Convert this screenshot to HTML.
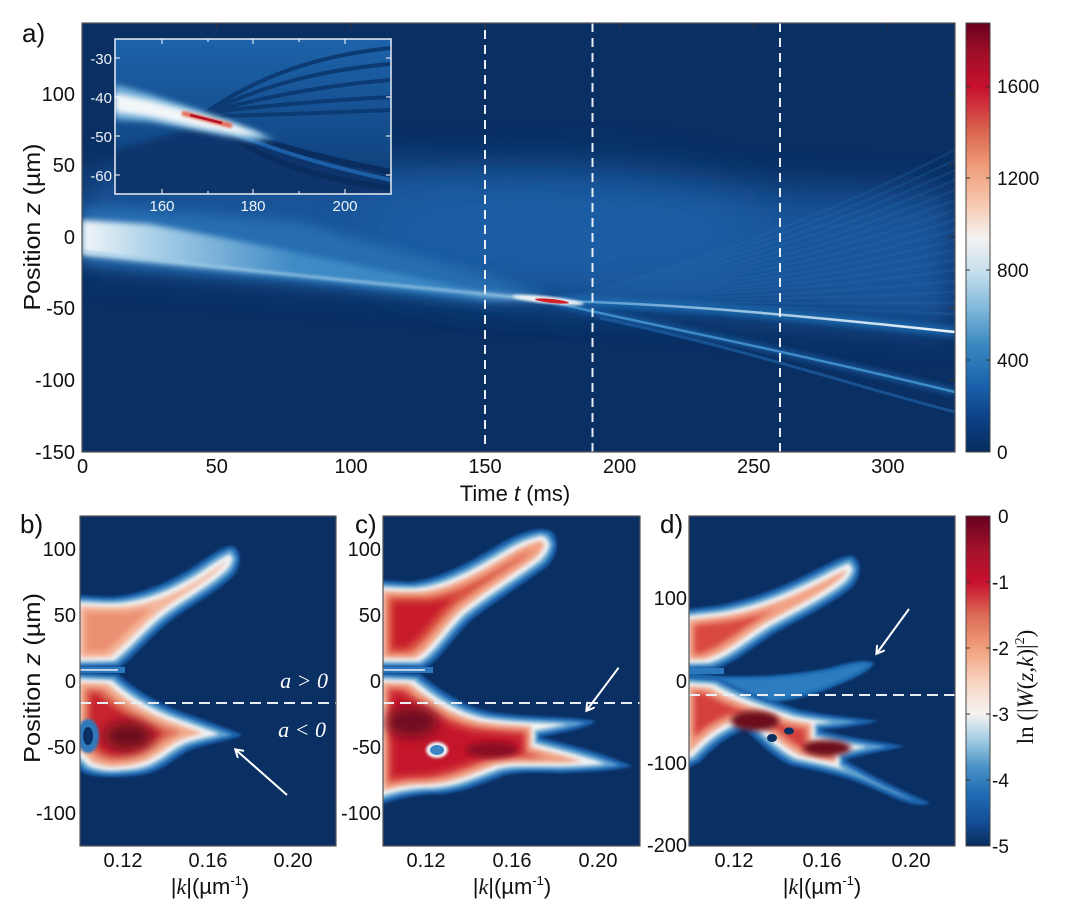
<!DOCTYPE html>
<html><head><meta charset="utf-8"><style>
html,body{margin:0;padding:0;background:#fff;}
svg{display:block;}
text{font-family:"Liberation Sans",sans-serif;fill:#111;}
</style></head><body>
<svg width="1071" height="921" viewBox="0 0 1071 921" xmlns="http://www.w3.org/2000/svg">
<defs>
<linearGradient id="cbA" x1="0" y1="1" x2="0" y2="0">
<stop offset="0" stop-color="#082d5e"/><stop offset="0.08" stop-color="#0d4188"/><stop offset="0.16" stop-color="#1a64ad"/><stop offset="0.25" stop-color="#3a88c0"/><stop offset="0.33" stop-color="#7cb6d9"/><stop offset="0.42" stop-color="#c6dfed"/><stop offset="0.5" stop-color="#f5f2f0"/><stop offset="0.58" stop-color="#f6c8ae"/><stop offset="0.67" stop-color="#ee9a77"/><stop offset="0.75" stop-color="#d9634e"/><stop offset="0.85" stop-color="#c8102e"/><stop offset="0.93" stop-color="#a00e26"/><stop offset="1" stop-color="#6a0020"/>
</linearGradient>
<linearGradient id="cbD" x1="0" y1="1" x2="0" y2="0">
<stop offset="0" stop-color="#082d5e"/><stop offset="0.08" stop-color="#14509a"/><stop offset="0.16" stop-color="#1f6db5"/><stop offset="0.24" stop-color="#4a92c6"/><stop offset="0.32" stop-color="#a0cbe2"/><stop offset="0.4" stop-color="#f5f3f2"/><stop offset="0.5" stop-color="#f9d2bf"/><stop offset="0.6" stop-color="#f0a07c"/><stop offset="0.7" stop-color="#dc6a55"/><stop offset="0.8" stop-color="#c8102e"/><stop offset="0.9" stop-color="#a3122a"/><stop offset="1" stop-color="#67001f"/>
</linearGradient>
<linearGradient id="beamG" x1="82" y1="0" x2="555" y2="0" gradientUnits="userSpaceOnUse">
<stop offset="0" stop-color="#f2f6f9"/><stop offset="0.15" stop-color="#a9d0e8"/><stop offset="0.45" stop-color="#3f8ac5"/><stop offset="0.8" stop-color="#3a86c3"/><stop offset="1" stop-color="#9cc8e4"/>
</linearGradient>
<linearGradient id="brG" x1="600" y1="0" x2="955" y2="0" gradientUnits="userSpaceOnUse">
<stop offset="0" stop-color="#5c9fd0"/><stop offset="1" stop-color="#f2f5f8"/>
</linearGradient>
<linearGradient id="insG" x1="0" y1="39" x2="0" y2="194" gradientUnits="userSpaceOnUse">
<stop offset="0" stop-color="#1d63ab"/><stop offset="1" stop-color="#0e3d76"/>
</linearGradient>
<filter id="b1" x="-20%" y="-20%" width="140%" height="140%"><feGaussianBlur stdDeviation="1.2"/></filter>
<filter id="b3" x="-20%" y="-50%" width="140%" height="200%"><feGaussianBlur stdDeviation="3"/></filter>
<filter id="b6" x="-20%" y="-50%" width="140%" height="200%"><feGaussianBlur stdDeviation="6"/></filter>
<filter id="b20" x="-30%" y="-50%" width="160%" height="200%"><feGaussianBlur stdDeviation="18"/></filter>
<filter id="b25" x="-50%" y="-50%" width="200%" height="200%"><feGaussianBlur stdDeviation="25"/></filter>
<filter id="e3"><feMorphology operator="erode" radius="3"/><feGaussianBlur stdDeviation="1.3"/></filter>
<filter id="e6"><feMorphology operator="erode" radius="6"/><feGaussianBlur stdDeviation="1.5"/></filter>
<filter id="e10"><feMorphology operator="erode" radius="10"/><feGaussianBlur stdDeviation="2"/></filter>
<filter id="e15"><feMorphology operator="erode" radius="15"/><feGaussianBlur stdDeviation="3"/></filter>
<filter id="e20"><feMorphology operator="erode" radius="20"/><feGaussianBlur stdDeviation="3"/></filter>
<clipPath id="cA"><rect x="82" y="23" width="873" height="429"/></clipPath>
<clipPath id="cI"><rect x="115" y="39" width="276" height="155"/></clipPath>
<clipPath id="cB"><rect x="80" y="516" width="256" height="330"/></clipPath>
<clipPath id="cC"><rect x="383" y="516" width="257" height="330"/></clipPath>
<clipPath id="cD"><rect x="689" y="516" width="266" height="330"/></clipPath>
<path id="bUp" d="M70,595 L110,597 C140,595 165,584 190,569 C210,556 222,546 232,546 C242,549 242,566 233,576 C215,593 190,606 170,621 C150,637 135,656 120,667 L70,668 Z"/>
<path id="bLow" d="M70,672 L118,674 C135,690 160,705 190,715 C215,724 232,730 242,735 C232,740 215,742 195,748 C175,755 165,772 140,775 C115,778 95,778 82,772 L70,760 Z"/>
<path id="cUp" d="M373,580 L410,582 C440,579 470,562 500,544 C520,532 540,526 551,531 C560,539 558,556 546,567 C520,586 495,601 470,621 C450,641 440,660 425,668 L373,668 Z"/>
<path id="cLow" d="M373,672 L420,674 C440,690 460,705 490,712 C530,718 570,716 595,721 C590,728 560,733 540,737 C570,745 600,752 632,766 C610,772 580,772 560,773 C530,772 510,772 500,777 C480,784 465,792 440,794 C410,794 395,800 373,807 Z"/>
<path id="dUp" d="M679,610 L715,606 C750,600 780,588 810,573 C830,563 845,554 853,556 C863,563 861,578 851,588 C830,605 800,619 775,633 C750,649 735,663 715,669 L679,670 Z"/>
<path id="dArm" d="M679,672 L720,676 C760,678 800,674 830,668 C850,662 865,659 874,663 C870,672 850,680 830,688 C800,700 770,705 745,703 Z"/>
<path id="dLow" d="M679,675 L720,678 C740,690 770,700 800,710 C830,716 860,718 878,721 C860,726 840,728 820,730 C850,738 880,742 905,746 C880,752 860,755 845,760 C870,775 900,790 930,803 C915,810 890,795 860,783 C840,775 815,770 790,765 C770,755 760,742 745,730 C730,735 715,745 700,762 L679,772 Z"/>
<marker id="ah" markerWidth="10" markerHeight="10" refX="7" refY="5" orient="auto" markerUnits="userSpaceOnUse"><path d="M0,0 L8,5 L0,10" fill="none" stroke="#fff" stroke-width="2"/></marker>
</defs>

<!-- ============ PANEL A ============ -->
<g clip-path="url(#cA)">
<rect x="82" y="23" width="873" height="429" fill="#0a2f63"/>
<path d="M82,175 L400,165 L700,185 L955,195 L955,330 L555,300 L82,262 Z" fill="#1a5ca3" opacity="0.85" filter="url(#b20)"/>
<ellipse cx="560" cy="230" rx="200" ry="55" fill="#1d62aa" opacity="0.7" filter="url(#b25)"/>
<!-- fringes -->
<g fill="none" stroke="#2a70b6" stroke-width="2.5" opacity="0.22">
<path d="M555,300 Q760,250 955,150"/><path d="M555,300 Q760,255 955,160"/><path d="M555,300 Q760,260 955,170"/><path d="M555,300 Q760,265 955,180"/><path d="M555,300 Q760,270 955,190"/><path d="M555,300 Q760,274 955,200"/><path d="M555,300 Q760,278 955,210"/><path d="M555,300 Q760,282 955,220"/><path d="M555,300 Q760,286 955,230"/><path d="M555,300 Q760,289 955,240"/><path d="M555,300 Q760,292 955,250"/><path d="M555,300 Q760,295 955,260"/><path d="M555,300 Q760,297 955,270"/><path d="M555,300 Q760,300 955,281"/><path d="M555,300 Q760,302 955,292"/><path d="M555,300 Q760,304 955,303"/><path d="M555,300 Q760,306 955,314"/>
</g>
<!-- main beam -->
<path d="M82,205 L300,222 L485,275 L555,298 L485,302 L300,282 L82,264 Z" fill="#2a75b8" opacity="0.8" filter="url(#b6)"/>
<path d="M82,220 L150,224 L250,243 L400,274 L485,292 L555,300 L485,299 L350,284 L200,268 L82,255 Z" fill="url(#beamG)" filter="url(#b3)"/>
<path d="M82,251 C200,266 400,286 555,301" fill="none" stroke="#a6d0ea" stroke-width="3" opacity="0.7" filter="url(#b1)"/>
<!-- branches -->
<path d="M555,301 C650,303 750,310 955,332" fill="none" stroke="#1e6db3" stroke-width="10" opacity="0.8" filter="url(#b3)"/>
<path d="M555,301 C650,303 750,310 955,332" fill="none" stroke="url(#brG)" stroke-width="2.5"/>
<path d="M560,304 C650,325 760,345 955,392" fill="none" stroke="#1d64aa" stroke-width="7" opacity="0.7" filter="url(#b3)"/>
<path d="M560,304 C650,325 760,345 955,392" fill="none" stroke="#3d8bc7" stroke-width="2.5"/>
<path d="M600,318 C750,350 850,385 955,412" fill="none" stroke="#1a5a9c" stroke-width="3" opacity="0.8"/>
<ellipse cx="548" cy="300" rx="36" ry="3.5" fill="#eef3f7" transform="rotate(6 548 300)" filter="url(#b1)"/>
<ellipse cx="552" cy="301" rx="17" ry="2" fill="#d0202a" transform="rotate(6 552 301)"/>
<!-- dashed lines -->
<g stroke="#e8eef4" stroke-width="2" stroke-dasharray="9,6">
<line x1="485" y1="30" x2="485" y2="445"/><line x1="592.5" y1="23" x2="592.5" y2="452"/><line x1="780" y1="23" x2="780" y2="452"/>
</g>
</g>
<rect x="82" y="23" width="873" height="429" fill="none" stroke="#555" stroke-width="1.2"/>
<g stroke="#333" stroke-width="1">
<line x1="216.8" y1="23" x2="216.8" y2="29"/><line x1="351" y1="23" x2="351" y2="29"/><line x1="485" y1="23" x2="485" y2="29"/><line x1="619.6" y1="23" x2="619.6" y2="29"/><line x1="753.7" y1="23" x2="753.7" y2="29"/><line x1="887.8" y1="23" x2="887.8" y2="29"/>
<line x1="949" y1="94" x2="955" y2="94"/><line x1="949" y1="165" x2="955" y2="165"/><line x1="949" y1="237" x2="955" y2="237"/><line x1="949" y1="308" x2="955" y2="308"/><line x1="949" y1="380" x2="955" y2="380"/>
</g>

<!-- inset -->
<g clip-path="url(#cI)">
<rect x="115" y="39" width="276" height="155" fill="url(#insG)"/>
<path d="M200,125 C260,140 330,160 391,175 L391,194 L115,194 L115,150 C150,140 180,132 200,125 Z" fill="#0b3368" opacity="0.8" filter="url(#b3)"/>
<g fill="none" stroke="#0c3a72" stroke-width="4">
<path d="M205,113 C260,75 320,55 391,48"/><path d="M205,113 C265,85 320,70 391,64"/><path d="M205,113 C270,95 330,85 391,80"/><path d="M205,113 C270,105 330,100 391,97"/><path d="M210,116 C280,115 340,112 391,110"/>
</g>
<g fill="none" stroke="#092d5e" stroke-width="6">
<path d="M215,125 C270,145 330,160 391,172"/><path d="M215,125 C260,160 320,180 391,188"/>
</g>
<path d="M215,125 C270,150 330,167 391,180" fill="none" stroke="#1d5fa6" stroke-width="4"/>
<path d="M115,84 L150,94 L190,107 L230,121 L275,139 L250,141 L200,131 L150,122 L115,120 Z" fill="#6aaad6" filter="url(#b3)"/>
<path d="M115,93 L150,100 L190,111 L230,123 L265,136 L240,135 L200,128 L150,117 L115,112 Z" fill="#f2f6f9" filter="url(#b3)"/>
<path d="M182,113 L232,126" stroke="#e46a52" stroke-width="5" filter="url(#b1)"/>
<path d="M190,115 L222,123" stroke="#b8102a" stroke-width="2.5"/>
</g>
<rect x="115" y="39" width="276" height="155" fill="none" stroke="#e8eef4" stroke-width="1.5"/>
<g stroke="#fff" stroke-width="1">
<line x1="162" y1="194" x2="162" y2="189"/><line x1="208" y1="194" x2="208" y2="191"/><line x1="253" y1="194" x2="253" y2="189"/><line x1="299" y1="194" x2="299" y2="191"/><line x1="345" y1="194" x2="345" y2="189"/>
<line x1="162" y1="39" x2="162" y2="44"/><line x1="208" y1="39" x2="208" y2="42"/><line x1="253" y1="39" x2="253" y2="44"/><line x1="299" y1="39" x2="299" y2="42"/><line x1="345" y1="39" x2="345" y2="44"/>
<line x1="115" y1="58" x2="120" y2="58"/><line x1="115" y1="97" x2="120" y2="97"/><line x1="115" y1="136" x2="120" y2="136"/><line x1="115" y1="175" x2="120" y2="175"/>
<line x1="391" y1="58" x2="386" y2="58"/><line x1="391" y1="97" x2="386" y2="97"/><line x1="391" y1="136" x2="386" y2="136"/><line x1="391" y1="175" x2="386" y2="175"/>
</g>
<g font-size="15" text-anchor="end">
<text x="112" y="64" style="fill:#eef3f7">-30</text><text x="112" y="103" style="fill:#eef3f7">-40</text><text x="112" y="142" style="fill:#eef3f7">-50</text><text x="112" y="181" style="fill:#eef3f7">-60</text>
</g>
<g font-size="15" text-anchor="middle">
<text x="162" y="211" style="fill:#eef3f7">160</text><text x="253" y="211" style="fill:#eef3f7">180</text><text x="345" y="211" style="fill:#eef3f7">200</text>
</g>

<!-- colorbar A -->
<rect x="966" y="23" width="24" height="429" fill="url(#cbA)" stroke="#444" stroke-width="1"/>
<g stroke="#333" stroke-width="1">
<line x1="986" y1="86.7" x2="990" y2="86.7"/><line x1="986" y1="178" x2="990" y2="178"/><line x1="986" y1="270" x2="990" y2="270"/><line x1="986" y1="360" x2="990" y2="360"/>
<line x1="966" y1="86.7" x2="970" y2="86.7"/><line x1="966" y1="178" x2="970" y2="178"/><line x1="966" y1="270" x2="970" y2="270"/><line x1="966" y1="360" x2="970" y2="360"/>
</g>
<g font-size="19">
<text x="997" y="93">1600</text><text x="997" y="185">1200</text><text x="997" y="277">800</text><text x="997" y="367">400</text><text x="997" y="459">0</text>
</g>

<!-- axis labels A -->
<text x="22" y="42" font-size="26">a)</text>
<g font-size="20" text-anchor="end">
<text x="75" y="101">100</text><text x="75" y="172">50</text><text x="75" y="244">0</text><text x="75" y="315">-50</text><text x="75" y="387">-100</text><text x="75" y="459">-150</text>
</g>
<g font-size="20" text-anchor="middle">
<text x="82.6" y="473">0</text><text x="216.8" y="473">50</text><text x="351" y="473">100</text><text x="485" y="473">150</text><text x="619.6" y="473">200</text><text x="753.7" y="473">250</text><text x="887.8" y="473">300</text>
</g>
<text x="515" y="501" font-size="22" text-anchor="middle">Time <tspan font-style="italic">t</tspan> (ms)</text>
<text transform="translate(40,227) rotate(-90)" font-size="23" text-anchor="middle" textLength="167" lengthAdjust="spacingAndGlyphs">Position <tspan font-style="italic">z</tspan> (µm)</text>

<!-- ============ PANEL B ============ -->
<g clip-path="url(#cB)">
<rect x="80" y="516" width="256" height="330" fill="#0a2f63"/>
<use href="#bUp" fill="#1e64ad" filter="url(#b1)"/>
<use href="#bUp" fill="#5b9ece" filter="url(#e3)"/>
<use href="#bUp" fill="#eef2f4" filter="url(#e6)"/>
<use href="#bUp" fill="#f5b79c" filter="url(#e10)"/>
<use href="#bUp" fill="#ec9072" filter="url(#e15)"/>
<rect x="80" y="667" width="45" height="6" fill="#2c78bc"/>
<line x1="80" y1="670" x2="118" y2="670" stroke="#e8f0f5" stroke-width="1.5"/>
<use href="#bLow" fill="#1e64ad" filter="url(#b1)"/>
<use href="#bLow" fill="#5b9ece" filter="url(#e3)"/>
<use href="#bLow" fill="#eef2f4" filter="url(#e6)"/>
<use href="#bLow" fill="#f3ad90" filter="url(#e10)"/>
<use href="#bLow" fill="#dc6a55" filter="url(#e15)"/>
<use href="#bLow" fill="#c8202f" filter="url(#e20)"/>
<ellipse cx="128" cy="736" rx="24" ry="14" fill="#6e0a1f" filter="url(#b6)"/>
<ellipse cx="88" cy="736" rx="11" ry="17" fill="#2e78bc" filter="url(#b1)"/>
<ellipse cx="88" cy="736" rx="5" ry="9" fill="#0a2f63"/>
<line x1="80" y1="703" x2="336" y2="703" stroke="#e8eef4" stroke-width="2" stroke-dasharray="11,6"/>
<line x1="287" y1="795" x2="236" y2="750" stroke="#fff" stroke-width="2" marker-end="url(#ah)"/>
</g>
<rect x="80" y="516" width="256" height="330" fill="none" stroke="#555" stroke-width="1.2"/>
<text x="328" y="688" font-size="22" text-anchor="end" style="fill:#fff;font-family:'Liberation Serif',serif;font-style:italic">a &gt; 0</text>
<text x="326" y="737" font-size="22" text-anchor="end" style="fill:#fff;font-family:'Liberation Serif',serif;font-style:italic">a &lt; 0</text>
<text x="20" y="533" font-size="26">b)</text>
<g font-size="20" text-anchor="end">
<text x="76" y="556">100</text><text x="76" y="622">50</text><text x="76" y="688">0</text><text x="76" y="754">-50</text><text x="76" y="820">-100</text>
</g>
<g font-size="20" text-anchor="middle">
<text x="123" y="867">0.12</text><text x="208" y="867">0.16</text><text x="293" y="867">0.20</text>
</g>
<text x="210" y="894" font-size="22" text-anchor="middle">|<tspan style="font-family:'Liberation Serif',serif;font-style:italic">k</tspan>|(µm<tspan font-size="13" dy="-9">-1</tspan><tspan dy="9">)</tspan></text>
<text transform="translate(40,678) rotate(-90)" font-size="23" text-anchor="middle" textLength="170" lengthAdjust="spacingAndGlyphs">Position <tspan font-style="italic">z</tspan> (µm)</text>

<!-- ============ PANEL C ============ -->
<g clip-path="url(#cC)">
<rect x="383" y="516" width="257" height="330" fill="#0a2f63"/>
<use href="#cUp" fill="#1e64ad" filter="url(#b1)"/>
<use href="#cUp" fill="#5b9ece" filter="url(#e3)"/>
<use href="#cUp" fill="#eef2f4" filter="url(#e6)"/>
<use href="#cUp" fill="#f2a385" filter="url(#e10)"/>
<use href="#cUp" fill="#d9533f" filter="url(#e15)"/>
<use href="#cUp" fill="#c81a2c" filter="url(#e20)"/>
<rect x="383" y="667" width="50" height="6" fill="#2c78bc"/>
<line x1="383" y1="670" x2="425" y2="670" stroke="#e8f0f5" stroke-width="1.5"/>
<use href="#cLow" fill="#1e64ad" filter="url(#b1)"/>
<use href="#cLow" fill="#5b9ece" filter="url(#e3)"/>
<use href="#cLow" fill="#eef2f4" filter="url(#e6)"/>
<use href="#cLow" fill="#f0a083" filter="url(#e10)"/>
<use href="#cLow" fill="#d43f3c" filter="url(#e15)"/>
<use href="#cLow" fill="#c41529" filter="url(#e20)"/>
<ellipse cx="412" cy="722" rx="26" ry="15" fill="#700a20" filter="url(#b6)"/>
<ellipse cx="492" cy="750" rx="26" ry="8" fill="#8a0a22" filter="url(#b3)"/>
<ellipse cx="437" cy="750" rx="11" ry="8" fill="#eef2f4" filter="url(#b1)"/>
<ellipse cx="437" cy="750" rx="7" ry="5" fill="#3b85c4"/>
<line x1="383" y1="703" x2="640" y2="703" stroke="#e8eef4" stroke-width="2" stroke-dasharray="11,6"/>
<line x1="618.6" y1="667.7" x2="587" y2="710" stroke="#fff" stroke-width="2" marker-end="url(#ah)"/>
</g>
<rect x="383" y="516" width="257" height="330" fill="none" stroke="#555" stroke-width="1.2"/>
<text x="355" y="533" font-size="26">c)</text>
<g font-size="20" text-anchor="end">
<text x="381" y="556">100</text><text x="381" y="622">50</text><text x="381" y="688">0</text><text x="381" y="754">-50</text><text x="381" y="820">-100</text>
</g>
<g font-size="20" text-anchor="middle">
<text x="426" y="867">0.12</text><text x="512" y="867">0.16</text><text x="598" y="867">0.20</text>
</g>
<text x="512" y="894" font-size="22" text-anchor="middle">|<tspan style="font-family:'Liberation Serif',serif;font-style:italic">k</tspan>|(µm<tspan font-size="13" dy="-9">-1</tspan><tspan dy="9">)</tspan></text>

<!-- ============ PANEL D ============ -->
<g clip-path="url(#cD)">
<rect x="689" y="516" width="266" height="330" fill="#0a2f63"/>
<use href="#dUp" fill="#1e64ad" filter="url(#b1)"/>
<use href="#dUp" fill="#5b9ece" filter="url(#e3)"/>
<use href="#dUp" fill="#eef2f4" filter="url(#e6)"/>
<use href="#dUp" fill="#f2a385" filter="url(#e10)"/>
<use href="#dUp" fill="#d94a40" filter="url(#e15)"/>
<use href="#dArm" fill="#1f6db5" filter="url(#b1)"/>
<use href="#dArm" fill="#2f7cc0" filter="url(#e3)"/>
<rect x="689" y="668" width="35" height="6" fill="#2c78bc"/>
<use href="#dLow" fill="#1e64ad" filter="url(#b1)"/>
<use href="#dLow" fill="#5b9ece" filter="url(#e3)"/>
<use href="#dLow" fill="#eef2f4" filter="url(#e6)"/>
<use href="#dLow" fill="#f0a083" filter="url(#e10)"/>
<use href="#dLow" fill="#d43f3c" filter="url(#e15)"/>
<ellipse cx="755" cy="721" rx="24" ry="10" fill="#6d0a1f" filter="url(#b3)"/>
<ellipse cx="827" cy="748" rx="24" ry="8" fill="#6d0a1f" filter="url(#b3)"/>
<ellipse cx="772" cy="738" rx="5" ry="4" fill="#0a2f63"/>
<ellipse cx="789" cy="731" rx="5" ry="3.5" fill="#0a2f63"/>
<line x1="689" y1="695" x2="955" y2="695" stroke="#e8eef4" stroke-width="2" stroke-dasharray="11,6"/>
<line x1="909" y1="609" x2="877" y2="653" stroke="#fff" stroke-width="2" marker-end="url(#ah)"/>
</g>
<rect x="689" y="516" width="266" height="330" fill="none" stroke="#555" stroke-width="1.2"/>
<text x="660" y="533" font-size="26">d)</text>
<g font-size="20" text-anchor="end">
<text x="687" y="605">100</text><text x="687" y="688">0</text><text x="687" y="770">-100</text><text x="687" y="852">-200</text>
</g>
<g font-size="20" text-anchor="middle">
<text x="734" y="867">0.12</text><text x="822" y="867">0.16</text><text x="911" y="867">0.20</text>
</g>
<text x="822" y="894" font-size="22" text-anchor="middle">|<tspan style="font-family:'Liberation Serif',serif;font-style:italic">k</tspan>|(µm<tspan font-size="13" dy="-9">-1</tspan><tspan dy="9">)</tspan></text>

<!-- colorbar D -->
<rect x="966" y="516" width="24" height="330" fill="url(#cbD)" stroke="#444" stroke-width="1"/>
<g stroke="#333" stroke-width="1">
<line x1="986" y1="582" x2="990" y2="582"/><line x1="986" y1="648" x2="990" y2="648"/><line x1="986" y1="714" x2="990" y2="714"/><line x1="986" y1="780" x2="990" y2="780"/>
<line x1="966" y1="582" x2="970" y2="582"/><line x1="966" y1="648" x2="970" y2="648"/><line x1="966" y1="714" x2="970" y2="714"/><line x1="966" y1="780" x2="970" y2="780"/>
</g>
<g font-size="19">
<text x="998" y="523">0</text><text x="992" y="589">-1</text><text x="992" y="655">-2</text><text x="992" y="721">-3</text><text x="992" y="787">-4</text><text x="992" y="853">-5</text>
</g>
<text transform="translate(1033,687) rotate(-90)" font-size="23" text-anchor="middle" style="font-family:'Liberation Serif',serif">ln (|<tspan font-style="italic">W</tspan>(<tspan font-style="italic">z</tspan>,<tspan font-style="italic">k</tspan>)|<tspan font-size="14" dy="-9">2</tspan><tspan dy="9">)</tspan></text>
</svg>
</body></html>
